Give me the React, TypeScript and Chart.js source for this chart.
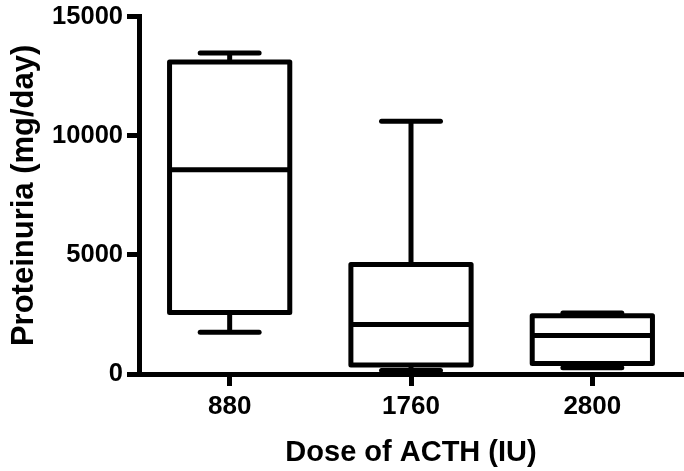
import React, { useEffect, useRef } from "react";
import { Chart, registerables } from "chart.js";

Chart.register(...registerables);

const categories = ["880", "1760", "2800"];
const minValues = [1756, 150, 262];
const q1Values = [2587, 374, 444];
const medianValues = [8580, 2075, 1619];
const q3Values = [13105, 4595, 2449];
const maxValues = [13478, 10614, 2561];
const yTicks = [0, 5000, 10000, 15000];

const boxPlugin = {
  id: "boxWhisker",
  afterDatasetsDraw(chart: any) {
    const meta = chart.getDatasetMeta(0);
    const y = chart.scales.y;
    const ctx = chart.ctx as CanvasRenderingContext2D;
    ctx.save();
    ctx.strokeStyle = "#000";
    ctx.lineWidth = 5;
    const line = (x1: number, y1: number, x2: number, y2: number) => {
      ctx.beginPath();
      ctx.moveTo(x1, y1);
      ctx.lineTo(x2, y2);
      ctx.stroke();
    };
    meta.data.forEach((bar: any, i: number) => {
      const cx = bar.x;
      const w = bar.width;
      const left = cx - w / 2;
      const right = cx + w / 2;
      const yMin = y.getPixelForValue(minValues[i]);
      const yQ1 = y.getPixelForValue(q1Values[i]);
      const yMed = y.getPixelForValue(medianValues[i]);
      const yQ3 = y.getPixelForValue(q3Values[i]);
      const yMax = y.getPixelForValue(maxValues[i]);
      const capHalf = w * 0.245;
      ctx.lineCap = "butt";
      line(cx, yQ3, cx, yMax);
      line(cx, yQ1, cx, yMin);
      ctx.lineCap = "round";
      line(cx - capHalf, yMax, cx + capHalf, yMax);
      line(cx - capHalf, yMin, cx + capHalf, yMin);
      ctx.lineCap = "butt";
      ctx.lineJoin = "round";
      ctx.strokeRect(left, yQ3, w, yQ1 - yQ3);
      line(left, yMed, right, yMed);
    });
    ctx.restore();
  },
};

export default function App() {
  const canvasRef = useRef<HTMLCanvasElement | null>(null);

  useEffect(() => {
    if (!canvasRef.current) return;
    const chart = new Chart(canvasRef.current, {
      type: "bar",
      data: {
        labels: categories,
        datasets: [
          {
            data: categories.map((_, i) => [q1Values[i], q3Values[i]]) as any,
            backgroundColor: "#ffffff",
            borderWidth: 0,
            barPercentage: 0.663,
            categoryPercentage: 1,
          },
        ],
      },
      options: {
        responsive: false,
        animation: false,
        devicePixelRatio: 1,
        layout: { padding: { top: 12.5, right: 1, left: 0, bottom: 0 } },
        plugins: {
          legend: { display: false },
          tooltip: { enabled: false },
        },
        scales: {
          x: {
            offset: true,
            grid: {
              offset: false,
              drawOnChartArea: false,
              drawTicks: true,
              tickLength: 12,
              lineWidth: 5,
              color: "#000",
            },
            border: { display: true, width: 5, color: "#000" },
            ticks: {
              color: "#000",
              padding: 5,
              font: { family: "'Liberation Sans', Arial, sans-serif", size: 26, weight: "bold" },
            },
            title: {
              display: true,
              text: "Dose of ACTH (IU)",
              color: "#000",
              padding: { top: 0, bottom: 1 },
              font: { family: "'Liberation Sans', Arial, sans-serif", size: 29, weight: "bold" },
            },
            afterFit: (s: any) => {
              s.height = 97;
            },
          },
          y: {
            min: 0,
            max: 15000,
            grid: {
              drawOnChartArea: false,
              drawTicks: true,
              tickLength: 12,
              lineWidth: 5,
              color: "#000",
            },
            border: { display: true, width: 5, color: "#000" },
            afterBuildTicks: (s: any) => {
              s.ticks = yTicks.map((v) => ({ value: v }));
            },
            ticks: {
              color: "#000",
              padding: 4,
              callback: (v: any) => String(v),
              font: { family: "'Liberation Sans', Arial, sans-serif", size: 25.5, weight: "bold", lineHeight: 1 },
            },
            title: {
              display: true,
              text: "Proteinuria (mg/day)",
              color: "#000",
              padding: { top: 6, bottom: 0 },
              font: { family: "'Liberation Sans', Arial, sans-serif", size: 31, weight: "bold" },
            },
            afterFit: (s: any) => {
              s.width = 139;
            },
          },
        },
      },
      plugins: [boxPlugin],
    });
    return () => chart.destroy();
  }, []);

  return (
    <div style={{ position: "absolute", left: 0, top: 0, width: 684, height: 471, background: "#fff" }}>
      <canvas ref={canvasRef} width={684} height={471} style={{ display: "block" }} />
    </div>
  );
}
